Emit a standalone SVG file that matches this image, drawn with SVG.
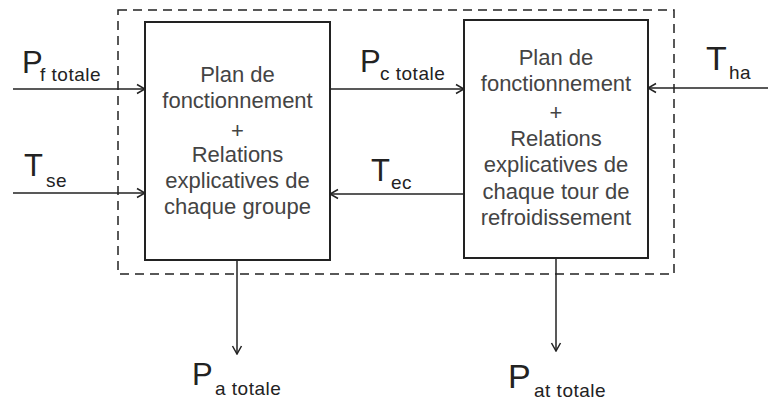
<svg xmlns="http://www.w3.org/2000/svg" width="768" height="403" viewBox="0 0 768 403">
  <style>
    .box { fill: #fff; stroke: #222; stroke-width: 2; }
    .frame { fill: none; stroke: #222; stroke-width: 1.5; stroke-dasharray: 9 6; }
    .wire { fill: none; stroke: #222; stroke-width: 1.5; }
    .body { font-family: "Liberation Sans", Arial, sans-serif; font-size: 22px; fill: #444; text-anchor: middle; }
    .big { font-family: "Liberation Sans", Arial, sans-serif; font-size: 31px; fill: #222; }
    .bigger { font-size: 34px; }
    .sub { font-family: "Liberation Sans", Arial, sans-serif; font-size: 19px; fill: #222; letter-spacing: 0.5px; }
  </style>
  <defs>
    <marker id="chev" viewBox="0 0 12 12" refX="11" refY="6" markerWidth="12" markerHeight="12" markerUnits="userSpaceOnUse" orient="auto">
      <path d="M3,1.5 L11,6 L3,10.5" fill="none" stroke="#222" stroke-width="1.5"/>
    </marker>
  </defs>

  <rect width="768" height="403" fill="#fff"/>

  <!-- dashed system boundary -->
  <rect class="frame" x="118" y="10" width="556" height="264"/>

  <!-- connectors -->
  <g id="connectors">
    <line class="wire" x1="13" y1="89" x2="145" y2="89" marker-end="url(#chev)"/>
    <line class="wire" x1="13" y1="193" x2="145" y2="193" marker-end="url(#chev)"/>
    <line class="wire" x1="330" y1="89" x2="464" y2="89" marker-end="url(#chev)"/>
    <line class="wire" x1="464" y1="194" x2="330" y2="194" marker-end="url(#chev)"/>
    <line class="wire" x1="768" y1="88" x2="648" y2="88" marker-end="url(#chev)"/>
    <line class="wire" x1="237" y1="260" x2="237" y2="354" marker-end="url(#chev)"/>
    <line class="wire" x1="556" y1="258" x2="556" y2="351" marker-end="url(#chev)"/>
  </g>

  <!-- groups block -->
  <g id="groupes">
    <rect class="box" x="145" y="22" width="185" height="238"/>
    <text class="body" x="237.5" y="82">Plan de</text>
    <text class="body" x="237.5" y="108">fonctionnement</text>
    <text class="body" x="237.5" y="138">+</text>
    <text class="body" x="237.5" y="162">Relations</text>
    <text class="body" x="237.5" y="188">explicatives de</text>
    <text class="body" x="237.5" y="214">chaque groupe</text>
  </g>

  <!-- cooling towers block -->
  <g id="tours">
    <rect class="box" x="464" y="20" width="184" height="238"/>
    <text class="body" x="556" y="65">Plan de</text>
    <text class="body" x="556" y="91">fonctionnement</text>
    <text class="body" x="556" y="120">+</text>
    <text class="body" x="556" y="146">Relations</text>
    <text class="body" x="556" y="172">explicatives de</text>
    <text class="body" x="556" y="199">chaque tour de</text>
    <text class="body" x="556" y="225">refroidissement</text>
  </g>

  <!-- variable labels -->
  <g id="label-pf">
    <text class="big" x="22" y="73">P</text>
    <text class="sub" x="40" y="81">f totale</text>
  </g>
  <g id="label-tse">
    <text class="big" x="24" y="176">T</text>
    <text class="sub" x="46" y="187">se</text>
  </g>
  <g id="label-pc">
    <text class="big" x="360" y="72">P</text>
    <text class="sub" x="380" y="80">c totale</text>
  </g>
  <g id="label-tec">
    <text class="big" x="371" y="181">T</text>
    <text class="sub" x="391" y="189">ec</text>
  </g>
  <g id="label-tha">
    <text class="big bigger" x="706" y="70">T</text>
    <text class="sub" x="729" y="79">ha</text>
  </g>
  <g id="label-pa">
    <text class="big" x="192" y="385">P</text>
    <text class="sub" x="215" y="395">a totale</text>
  </g>
  <g id="label-pat">
    <text class="big bigger" x="508" y="388">P</text>
    <text class="sub" x="534" y="397">at totale</text>
  </g>
</svg>
